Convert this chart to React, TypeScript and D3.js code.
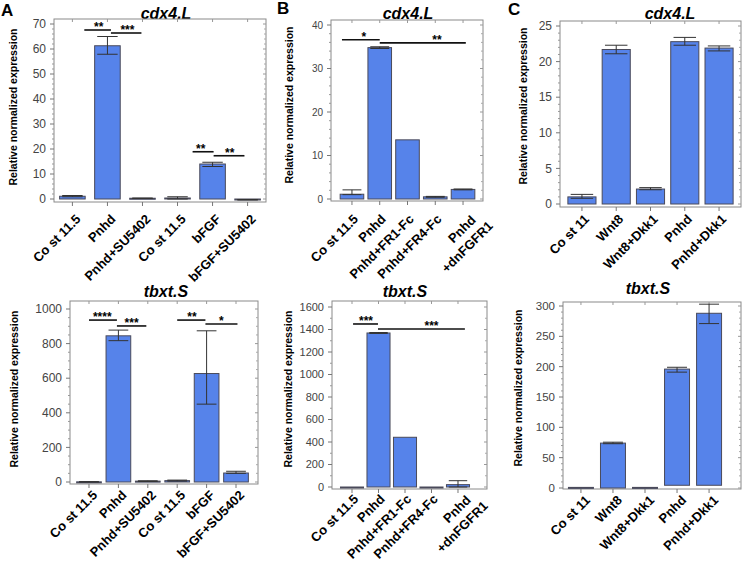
import React from 'react'
import * as d3 from 'd3'

// ---- data ----
const catsA = ['Co st 11.5', 'Pnhd', 'Pnhd+SU5402', 'Co st 11.5', 'bFGF', 'bFGF+SU5402']
const catsB = ['Co st 11.5', 'Pnhd', 'Pnhd+FR1-Fc', 'Pnhd+FR4-Fc', 'Pnhd\n+dnFGFR1']
const catsC = ['Co st 11', 'Wnt8', 'Wnt8+Dkk1', 'Pnhd', 'Pnhd+Dkk1']

// cdx4.L
const cdxA = [1.1, 61.3, 0.3, 0.4, 14.0, -0.3]
const cdxALo = [0.9, 57.9, 0.2, 0.0, 13.0, -0.4]
const cdxAHi = [1.4, 65.0, 0.4, 0.9, 14.7, -0.2]
const cdxB = [1.1, 34.8, 13.6, 0.5, 2.2]
const cdxBLo = [1.0, 34.6, 13.6, 0.4, 2.1]
const cdxBHi = [2.1, 35.0, 13.6, 0.6, 2.3]
const cdxC = [1.0, 21.7, 2.1, 22.8, 21.9]
const cdxCLo = [0.8, 21.1, 2.0, 22.3, 21.5]
const cdxCHi = [1.35, 22.3, 2.3, 23.4, 22.2]

// tbxt.S
const tbxtA = [1, 845, 5, 8, 627, 52]
const tbxtALo = [0, 817, 3, 5, 450, 50]
const tbxtAHi = [2, 878, 7, 11, 874, 62]
const tbxtB = [0, 1369, 442, 0, 21]
const tbxtBLo = [0, 1365, 442, 0, 0]
const tbxtBHi = [0, 1373, 442, 0, 56]
const tbxtC = [1, 74, 1, 196, 288]
const tbxtCLo = [1, 73, 1, 191, 271]
const tbxtCHi = [1, 75.5, 1, 199, 303]
const tbxtCBase = [0, 0, 0, 4.5, 4.5]

// significance brackets: [from index, to index, y value, label position index, label]
type Sig = [number, number, number, number, string]
const sigCdxA: Sig[] = [
  [0.34, 1.1, 67.6, 0.75, '**'], [1.1, 1.97, 66.4, 1.57, '***'],
  [3.43, 4.03, 18.9, 3.66, '**'], [4.03, 4.91, 17.3, 4.49, '**'],
]
const sigCdxB: Sig[] = [
  [-0.36, 1.0, 36.6, 0.43, '*'], [1.0, 4.1, 35.9, 3.06, '**'],
]
const sigTbxtA: Sig[] = [
  [0.0, 0.95, 936, 0.45, '****'], [0.95, 1.95, 902, 1.45, '***'],
  [3.0, 3.96, 936, 3.5, '**'], [3.96, 5.05, 913, 4.5, '*'],
]
const sigTbxtB: Sig[] = [
  [0.04, 0.98, 1449, 0.53, '***'], [0.98, 4.26, 1404, 3.0, '***'],
]

const FONT = '"Liberation Sans", Arial, Helvetica, sans-serif'
const BAR = '#5683ea'

type PanelProps = {
  letter?: string
  letterPos?: [number, number]
  title: string
  titleX: number
  titleY: number
  cats: string[]
  vals: number[]
  lo: number[]
  hi: number[]
  base?: number[]
  sig?: Sig[]
  frame: [number, number, number, number] // left, top, right, bottom
  band: [number, number, number, number] // x0, x1, paddingInner, paddingOuter
  yRange: [number, number] // px of 0 and of max
  max: number
  step: number
  minor: number
  tickSize: number
  yLabel: [number, number]
  labelOff: [number, number]
}

function Panel(p: PanelProps) {
  const [fl, ft, fr, fb] = p.frame
  const x = d3.scaleBand<number>()
    .domain(p.cats.map((_, i) => i))
    .range([p.band[0], p.band[1]])
    .paddingInner(p.band[2])
    .paddingOuter(p.band[3])
  const bw = x.bandwidth()
  const cx = (i: number) => (x(0) as number) + bw / 2 + i * x.step()
  const y = d3.scaleLinear().domain([0, p.max]).range(p.yRange)
  const majors = d3.range(0, p.max + p.step / 2, p.step)
  const minors = d3.range(0, p.max + 1e-9, p.step / p.minor).filter(v => !majors.some(m => Math.abs(m - v) < 1e-9))

  return (
    <g>
      {p.letter && p.letterPos && (
        <text x={p.letterPos[0]} y={p.letterPos[1]} fontSize={17} fontWeight="bold" fontFamily={FONT}>{p.letter}</text>
      )}
      <text x={p.titleX} y={p.titleY} textAnchor="middle" fontSize={16} fontWeight="bold" fontStyle="italic" fontFamily={FONT}>{p.title}</text>
      <text transform={`translate(${p.yLabel[0]},${p.yLabel[1]}) rotate(-90)`} textAnchor="middle" fontSize={10.5} fontWeight="bold" fontFamily={FONT}>
        Relative normalized expression
      </text>

      {/* frame */}
      <rect x={fl} y={ft} width={fr - fl} height={fb - ft} fill="none" stroke="#8a8a8a" strokeWidth={1} />

      {/* y ticks */}
      {majors.map(v => (
        <g key={'M' + v}>
          <line x1={fl - 4} x2={fl} y1={y(v)} y2={y(v)} stroke="#777" />
          <line x1={fr - 3} x2={fr} y1={y(v)} y2={y(v)} stroke="#999" />
          <text x={fl - 8} y={y(v)} dy="0.35em" textAnchor="end" fontSize={p.tickSize} fill="#444" fontFamily={FONT}>{v}</text>
        </g>
      ))}
      {minors.map(v => (
        <g key={'m' + v}>
          <line x1={fl - 2} x2={fl} y1={y(v)} y2={y(v)} stroke="#999" />
          <line x1={fr - 2} x2={fr} y1={y(v)} y2={y(v)} stroke="#aaa" />
        </g>
      ))}

      {/* x ticks */}
      {p.cats.map((_, i) => (
        <g key={'xt' + i}>
          <line x1={cx(i)} x2={cx(i)} y1={fb} y2={fb + 4} stroke="#777" />
          <line x1={cx(i)} x2={cx(i)} y1={ft} y2={ft + 3} stroke="#999" />
        </g>
      ))}

      {/* bars */}
      {p.vals.map((v, i) => {
        const b = p.base ? p.base[i] : 0
        const y1 = y(Math.max(v, b))
        const y2 = y(Math.min(v, b))
        return (
          <rect key={'b' + i} x={x(i)} y={y1} width={bw} height={Math.max(1, y2 - y1)} fill={BAR} stroke="#4a4a5a" strokeWidth={1} />
        )
      })}

      {/* error bars */}
      {p.vals.map((v, i) => {
        if (p.hi[i] - p.lo[i] < 1e-9) return null
        const c = cx(i)
        const hw = bw * 0.4
        return (
          <g key={'e' + i} stroke="#333" strokeWidth={1}>
            <line x1={c} x2={c} y1={y(p.lo[i])} y2={y(p.hi[i])} />
            <line x1={c - hw} x2={c + hw} y1={y(p.hi[i])} y2={y(p.hi[i])} />
            <line x1={c - hw} x2={c + hw} y1={y(p.lo[i])} y2={y(p.lo[i])} />
          </g>
        )
      })}

      {/* significance */}
      {(p.sig || []).map(([a, b, v, at, lab], k) => (
        <g key={'s' + k}>
          <line x1={cx(a)} x2={cx(b)} y1={y(v)} y2={y(v)} stroke="#111" strokeWidth={1.6} />
          <text x={cx(at)} y={y(v) + 1} textAnchor="middle" fontSize={12} fontWeight="bold" fontFamily={FONT}>{lab}</text>
        </g>
      ))}

      {/* x labels */}
      {p.cats.map((c, i) => {
        const lines = c.split('\n')
        return (
          <text key={'xl' + i} transform={`translate(${cx(i) + p.labelOff[0]},${fb + p.labelOff[1]}) rotate(-45)`} textAnchor="end" fontSize={13} fontWeight="bold" fontFamily={FONT}>
            {lines.length === 1 ? c : lines.map((l, j) => (
              <tspan key={j} x={j === 0 ? 4 : 12} dy={j === 0 ? '0.4em' : '1.25em'}>{l}</tspan>
            ))}
          </text>
        )
      })}
    </g>
  )
}

export default function App() {
  return (
    <svg width={745} height={562} style={{ display: 'block', position: 'absolute', left: 0, top: 0, background: '#fff' }}>
      <Panel letter="A" letterPos={[1, 16]} title="cdx4.L" titleX={166} titleY={19}
        cats={catsA} vals={cdxA} lo={cdxALo} hi={cdxAHi} sig={sigCdxA}
        frame={[54, 19, 266, 202]} band={[54, 266, 0.27, 0.16]} yRange={[199, 24]}
        max={70} step={10} minor={5} tickSize={12} yLabel={[17, 107]} labelOff={[9, 18]} />
      <Panel letter="B" letterPos={[277, 14]} title="cdx4.L" titleX={408} titleY={19}
        cats={catsB} vals={cdxB} lo={cdxBLo} hi={cdxBHi} sig={sigCdxB}
        frame={[331, 20, 483, 201]} band={[331, 484, 0.15, 0.33]} yRange={[199, 25]}
        max={40} step={10} minor={5} tickSize={10} yLabel={[293, 105]} labelOff={[7, 19]} />
      <Panel letter="C" letterPos={[508, 15]} title="cdx4.L" titleX={670} titleY={19}
        cats={catsC} vals={cdxC} lo={cdxCLo} hi={cdxCHi}
        frame={[560, 21, 741, 207]} band={[560, 741, 0.18, 0.23]} yRange={[204, 26]}
        max={25} step={5} minor={5} tickSize={12} yLabel={[527, 106]} labelOff={[8, 13]} />

      <Panel title="tbxt.S" titleX={166} titleY={297}
        cats={catsA} vals={tbxtA} lo={tbxtALo} hi={tbxtAHi} sig={sigTbxtA}
        frame={[70, 301, 258, 484]} band={[70, 255, 0.16, 0.226]} yRange={[482, 309]}
        max={1000} step={200} minor={4} tickSize={12} yLabel={[18, 389]} labelOff={[9, 12]} />
      <Panel title="tbxt.S" titleX={405} titleY={297}
        cats={catsB} vals={tbxtB} lo={tbxtBLo} hi={tbxtBHi} sig={sigTbxtB}
        frame={[332, 301, 487, 489]} band={[332, 478, 0.13, 0.32]} yRange={[487, 307]}
        max={1600} step={200} minor={2} tickSize={11} yLabel={[292, 389]} labelOff={[7, 11]} />
      <Panel title="tbxt.S" titleX={648} titleY={294}
        cats={catsC} vals={tbxtC} lo={tbxtCLo} hi={tbxtCHi} base={tbxtCBase}
        frame={[563, 302, 741, 489]} band={[563, 727, 0.22, 0.17]} yRange={[488, 306]}
        max={300} step={50} minor={5} tickSize={11.5} yLabel={[522, 388]} labelOff={[10, 12]} />
    </svg>
  )
}
